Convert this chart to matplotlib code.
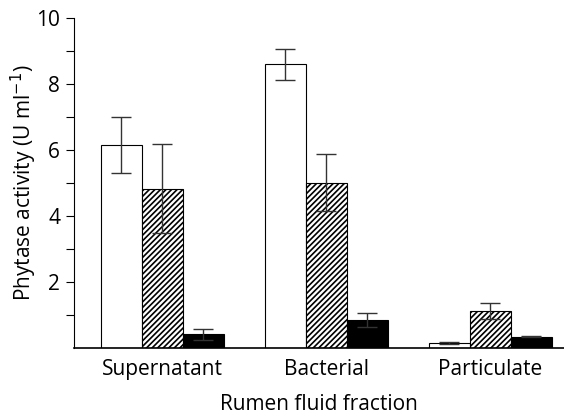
# Phytase activity by rumen fluid fraction
import numpy as np
import matplotlib.pyplot as plt

# Data
fractions = ['Supernatant', 'Bacterial', 'Particulate']
open_vals = [6.15, 8.60, 0.14]
open_err = [0.85, 0.47, 0.03]
hatch_vals = [4.82, 5.01, 1.12]
hatch_err = [1.35, 0.86, 0.24]
solid_vals = [0.41, 0.85, 0.34]
solid_err = [0.18, 0.20, 0.02]
yticks = [2, 4, 6, 8, 10]

plt.rcParams['font.family'] = ['Open Sans', 'DejaVu Sans']
plt.rcParams['hatch.linewidth'] = 1.2

fig = plt.figure(figsize=(5.64, 4.16), dpi=100)
ax = fig.add_axes([0.1312, 0.1635, 0.8688, 0.7932])

x = np.arange(len(fractions))
w = 0.25
err_kw = dict(ecolor='#333333', elinewidth=1.0, capsize=7, capthick=1.0)

ax.bar(x - w, open_vals, w, yerr=open_err, color='white', edgecolor='black',
       linewidth=0.8, error_kw=err_kw)
ax.bar(x, hatch_vals, w, yerr=hatch_err, color='white', edgecolor='black',
       hatch='//////', linewidth=0.8, error_kw=err_kw)
ax.bar(x + w, solid_vals, w, yerr=solid_err, color='black', edgecolor='black',
       linewidth=0.8, error_kw=err_kw)

ax.set_xlim(-0.537, 2.448)
ax.set_ylim(0, 10)
ax.set_xticks(x)
ax.set_xticklabels(fractions, fontsize=15)
ax.tick_params(axis='x', length=0, pad=8)
ax.set_yticks(np.arange(1, 11))
ax.set_yticklabels(['' if t not in yticks else str(t) for t in range(1, 11)],
                   fontsize=15)
ax.tick_params(axis='y', length=6, width=0.8, pad=4)

ax.spines['top'].set_visible(False)
ax.spines['right'].set_visible(False)
ax.spines['left'].set_linewidth(0.8)
ax.spines['bottom'].set_linewidth(1.2)

ax.set_xlabel('Rumen fluid fraction', fontsize=15, labelpad=10)
ax.set_ylabel('Phytase activity (U ml$^{-1}$)', fontsize=15)
ax.yaxis.set_label_coords(-0.072, 0.5)

fig.savefig('out.png', dpi=100)
